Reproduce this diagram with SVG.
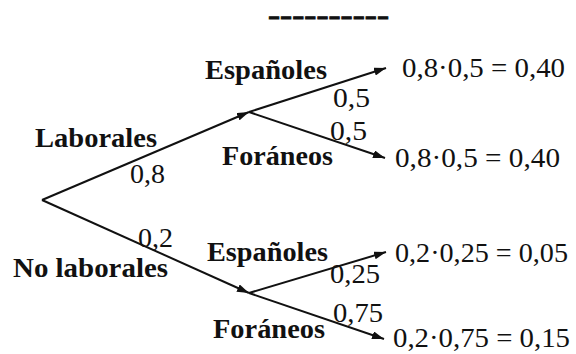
<svg xmlns="http://www.w3.org/2000/svg" width="576" height="354" viewBox="0 0 576 354">
<style>
.b{font-family:"Liberation Serif","Times New Roman",serif;font-weight:bold;font-size:27px;fill:#111}
.r{font-family:"Liberation Serif","Times New Roman",serif;font-size:27px;fill:#111}
.e{stroke:#111;stroke-width:2;fill:none;marker-end:url(#ah)}
</style>
<defs>
<marker id="ah" markerUnits="userSpaceOnUse" markerWidth="12" markerHeight="8" refX="12" refY="4" orient="auto">
<path d="M0,0 L12,4 L0,8 z" fill="#111"/>
</marker>
</defs>
<rect width="576" height="354" fill="#fff"/>
<text class="b" x="268" y="24" font-size="40" stroke="#111" stroke-width="0.8" textLength="121" lengthAdjust="spacingAndGlyphs">----------</text>
<g id="connectors">
<line class="e" x1="42" y1="200" x2="249" y2="112"/>
<line class="e" x1="42" y1="200" x2="249" y2="293"/>
<line class="e" x1="249" y1="112" x2="386" y2="68"/>
<line class="e" x1="249" y1="112" x2="385" y2="158"/>
<line class="e" x1="249" y1="293" x2="386" y2="252"/>
<line class="e" x1="249" y1="293" x2="384" y2="339"/>
</g>
<g id="laborales"><text class="b" x="35" y="147" textLength="122" lengthAdjust="spacingAndGlyphs">Laborales</text></g>
<g id="nolaborales"><text class="b" x="13" y="277" textLength="155" lengthAdjust="spacingAndGlyphs">No laborales</text></g>
<g id="esp1"><text class="b" x="205" y="79" textLength="122" lengthAdjust="spacingAndGlyphs">Españoles</text></g>
<g id="for1"><text class="b" x="222" y="165" textLength="111" lengthAdjust="spacingAndGlyphs">Foráneos</text></g>
<g id="esp2"><text class="b" x="207" y="261" textLength="121" lengthAdjust="spacingAndGlyphs">Españoles</text></g>
<g id="for2"><text class="b" x="213" y="338" textLength="112" lengthAdjust="spacingAndGlyphs">Foráneos</text></g>
<g id="labels">
<text class="r" x="130" y="183" textLength="35" lengthAdjust="spacingAndGlyphs">0,8</text>
<text class="r" x="138" y="247" textLength="35" lengthAdjust="spacingAndGlyphs">0,2</text>
<text class="r" x="333" y="107" textLength="37" lengthAdjust="spacingAndGlyphs">0,5</text>
<text class="r" x="330" y="140" textLength="37" lengthAdjust="spacingAndGlyphs">0,5</text>
<text class="r" x="330" y="283" textLength="50" lengthAdjust="spacingAndGlyphs">0,25</text>
<text class="r" x="333" y="322" textLength="50" lengthAdjust="spacingAndGlyphs">0,75</text>
</g>
<g id="res1"><text class="r" x="402" y="77" textLength="163" lengthAdjust="spacingAndGlyphs">0,8·0,5 = 0,40</text></g>
<g id="res2"><text class="r" x="395" y="167" textLength="165" lengthAdjust="spacingAndGlyphs">0,8·0,5 = 0,40</text></g>
<g id="res3"><text class="r" x="395" y="262" textLength="173" lengthAdjust="spacingAndGlyphs">0,2·0,25 = 0,05</text></g>
<g id="res4"><text class="r" x="393" y="347" textLength="177" lengthAdjust="spacingAndGlyphs">0,2·0,75 = 0,15</text></g>
</svg>
